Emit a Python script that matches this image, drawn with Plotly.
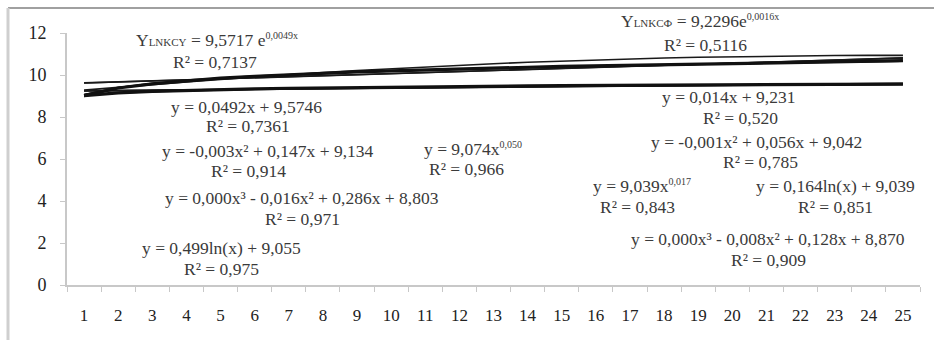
import numpy as np
import plotly.graph_objects as go

# Periods on the category axis
periods = list(range(1, 26))

# Observed indicator values (two series)
series_upper = [9.02, 9.38, 9.58, 9.73, 9.85, 9.94, 10.02, 10.09, 10.15, 10.20,
                10.25, 10.29, 10.33, 10.37, 10.41, 10.44, 10.47, 10.50, 10.53, 10.56,
                10.58, 10.61, 10.63, 10.66, 10.68]
series_lower = [9.02, 9.15, 9.22, 9.27, 9.31, 9.34, 9.37, 9.39, 9.41, 9.42,
                9.44, 9.45, 9.46, 9.48, 9.49, 9.50, 9.51, 9.52, 9.53, 9.53,
                9.54, 9.55, 9.56, 9.56, 9.57]

# Trend coefficients, upper series
up_exp = (9.5717, 0.0049)
up_lin = (0.0492, 9.5746)
up_quad = (-0.003, 0.147, 9.134)
up_log = (0.499, 9.055)
up_pow = (9.074, 0.050)

# Trend coefficients, lower series
lo_exp = (9.2296, 0.0016)
lo_lin = (0.014, 9.231)
lo_log = (0.164, 9.039)
lo_pow = (9.039, 0.017)

y_ticks = [0, 2, 4, 6, 8, 10, 12]

SERIF = "Liberation Serif"
TXT = "#3a3a3a"

x = np.array(periods, dtype=float)
xcat = [str(p) for p in periods]


def trends(exp_c, lin_c, log_c, pow_c, quad_c=None):
    out = [
        exp_c[0] * np.exp(exp_c[1] * x),
        lin_c[0] * x + lin_c[1],
        log_c[0] * np.log(x) + log_c[1],
        pow_c[0] * x ** pow_c[1],
    ]
    if quad_c is not None:
        out.append(quad_c[0] * x ** 2 + quad_c[1] * x + quad_c[2])
    return out


fig = go.Figure()

for ys in trends(up_exp, up_lin, up_log, up_pow, up_quad) + trends(lo_exp, lo_lin, lo_log, lo_pow):
    fig.add_trace(go.Scatter(x=xcat, y=ys, mode="lines",
                             line=dict(color="#1a1a1a", width=1.6),
                             showlegend=False, hoverinfo="skip"))

for ys in (series_upper, series_lower):
    fig.add_trace(go.Scatter(x=xcat, y=ys, mode="lines",
                             line=dict(color="#111111", width=3.2),
                             showlegend=False))


def sup(s):
    return "<sup><span style='font-size:10px'>" + s + "</span></sup>"


def sub_caps(s):
    return "<span style='font-size:11px'>" + s + "</span>"


# Equation labels: (text, centre x px, centre y px)
X0, X1, Y0, Y1 = 67, 920, 285, 33
labels = [
    ("Y" + sub_caps("LNKCY") + " = 9,5717 e" + sup("0,0049x"), 217, 40),
    ("R² = 0,7137", 215, 62),
    ("y = 0,0492x + 9,5746", 246, 107),
    ("R² = 0,7361", 248, 126),
    ("y = -0,003x² + 0,147x + 9,134", 268, 151),
    ("R² = 0,914", 248, 171),
    ("y = 0,000x³ - 0,016x² + 0,286x + 8,803", 302, 198),
    ("R² = 0,971", 302, 219),
    ("y = 0,499ln(x) + 9,055", 221, 248),
    ("R² = 0,975", 221, 269),
    ("y = 9,074x" + sup("0,050"), 473, 149),
    ("R² = 0,966", 466, 169),
    ("Y" + sub_caps("LNKCФ") + " = 9,2296e" + sup("0,0016x"), 700, 21),
    ("R² = 0,5116", 705, 45),
    ("y = 0,014x + 9,231", 729, 97),
    ("R² = 0,520", 740, 118),
    ("y = -0,001x² + 0,056x + 9,042", 756, 142),
    ("R² = 0,785", 760, 162),
    ("y = 9,039x" + sup("0,017"), 642, 186),
    ("R² = 0,843", 637, 207),
    ("y = 0,164ln(x) + 9,039", 835, 186),
    ("R² = 0,851", 835, 207),
    ("y = 0,000x³ - 0,008x² + 0,128x + 8,870", 768, 239),
    ("R² = 0,909", 768, 260),
]
for text, px, py in labels:
    fig.add_annotation(text=text, xref="paper", yref="paper",
                       x=(px - X0) / (X1 - X0), y=(Y0 - py) / (Y0 - Y1),
                       xanchor="center", yanchor="middle", showarrow=False,
                       borderpad=0,
                       font=dict(family=SERIF, size=17.5, color=TXT))

# Frame lines around the figure
fig.add_shape(type="line", xref="paper", yref="paper",
              x0=(8 - X0) / (X1 - X0), x1=(934 - X0) / (X1 - X0),
              y0=(Y0 - 8) / (Y0 - Y1), y1=(Y0 - 8) / (Y0 - Y1),
              line=dict(color="#a0a0a0", width=2))
fig.add_shape(type="line", xref="paper", yref="paper",
              x0=(8 - X0) / (X1 - X0), x1=(8 - X0) / (X1 - X0),
              y0=(Y0 - 8) / (Y0 - Y1), y1=(Y0 - 345) / (Y0 - Y1),
              line=dict(color="#cfcfcf", width=3))

fig.update_layout(
    width=934, height=340,
    margin=dict(l=X0, r=934 - X1, t=Y1, b=340 - Y0),
    paper_bgcolor="white", plot_bgcolor="white",
    font=dict(family=SERIF, size=17, color=TXT),
    xaxis=dict(type="category", range=[-0.5, len(periods) - 0.5],
               tickson="boundaries", ticks="outside",
               ticklen=5, tickcolor="#c8c8c8", showgrid=False,
               showline=True, linecolor="#c8c8c8", linewidth=2,
               ticklabelstandoff=14, zeroline=False,
               tickfont=dict(family=SERIF, size=17, color="#222222")),
    yaxis=dict(range=[0, 12], tickvals=y_ticks, ticks="outside",
               ticklen=5, tickcolor="#c8c8c8", showgrid=False,
               showline=True, linecolor="#c8c8c8", linewidth=2,
               ticklabelstandoff=10, zeroline=False,
               tickfont=dict(family=SERIF, size=18, color="#222222")),
)

fig.write_html("out.html")
